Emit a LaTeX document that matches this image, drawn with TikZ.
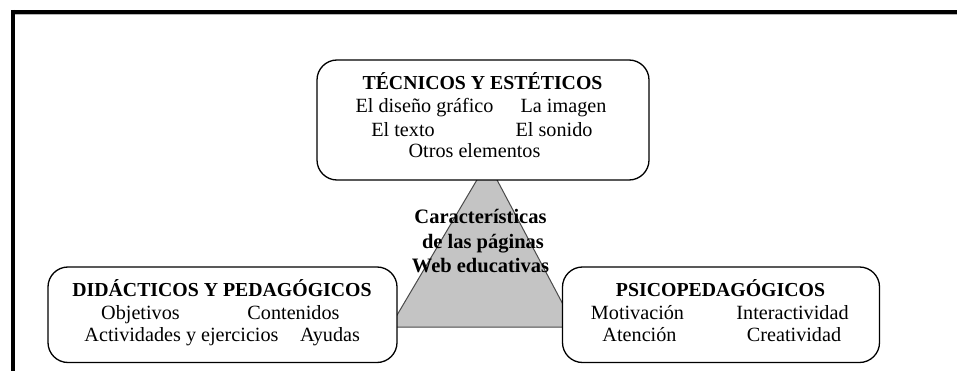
\documentclass[tikz,border=0pt]{standalone}
\usepackage{fontspec}
\setmainfont{Liberation Serif}
\definecolor{trifill}{HTML}{C4C4C4}
\definecolor{triline}{HTML}{4A4A4A}
\definecolor{shadowline}{HTML}{B4B4B4}
\begin{document}
\begin{tikzpicture}[x=1pt,y=-1pt,
  box/.style={draw=black, line width=1.3pt, rounded corners=20pt, fill=white, inner sep=0pt},
  body/.style={inner sep=0pt, anchor=base, font=\fontsize{20.2}{24}\selectfont},
  head/.style={inner sep=0pt, anchor=base, font=\fontsize{19.8}{24}\selectfont\bfseries},
  tri/.style={inner sep=0pt, anchor=base, font=\fontsize{20.5}{24}\selectfont\bfseries}]
\useasboundingbox (0,0) rectangle (957,371);
% frame
\draw[shadowline, line width=1pt] (15,14.8) -- (957,14.8);
\draw[black, line width=4pt] (11,12) -- (957,12);
\draw[black, line width=4pt] (13,10) -- (13,371);
% triangle
\coordinate (apex) at (487.5,162);
\coordinate (bl) at (390,327);
\coordinate (br) at (575,327);
\draw[fill=trifill, draw=triline, line width=1pt] (apex) -- (bl) -- (br) -- cycle;
% boxes
\node[box, minimum width=332pt, minimum height=120pt] (tec) at (483,120) {};
\node[box, minimum width=349pt, minimum height=95.5pt] (did) at (222.5,314.75) {};
\node[box, minimum width=317pt, minimum height=95.5pt] (psi) at (721,314.75) {};
% top box text
\node[head] (tech) at (482.5,90) {TÉCNICOS Y ESTÉTICOS};
\node[body] (t1) at (424.5,113) {El diseño gráfico};
\node[body] (t2) at (563.5,113) {La imagen};
\node[body] (t3) at (403,137) {El texto};
\node[body] (t4) at (554,137) {El sonido};
\node[body] (t5) at (474.5,158) {Otros elementos};
% left box text
\node[head] (didh) at (222,296) {DIDÁCTICOS Y PEDAGÓGICOS};
\node[body] (d1) at (140.5,319) {Objetivos};
\node[body] (d2) at (293.5,319) {Contenidos};
\node[body] (d3) at (181.5,341) {Actividades y ejercicios};
\node[body] (d4) at (330,341) {Ayudas};
% right box text
\node[head] (psih) at (720.5,296) {PSICOPEDAGÓGICOS};
\node[body] (p1) at (637.5,319) {Motivación};
\node[body] (p2) at (792.5,319) {Interactividad};
\node[body] (p3) at (639.5,341) {Atención};
\node[body] (p4) at (794,341) {Creatividad};
% triangle text
\node[tri] (c1) at (480.5,223) {Características};
\node[tri] (c2) at (483,248) {de las páginas};
\node[tri] (c3) at (480.5,272) {Web educativas};
\end{tikzpicture}
\end{document}
